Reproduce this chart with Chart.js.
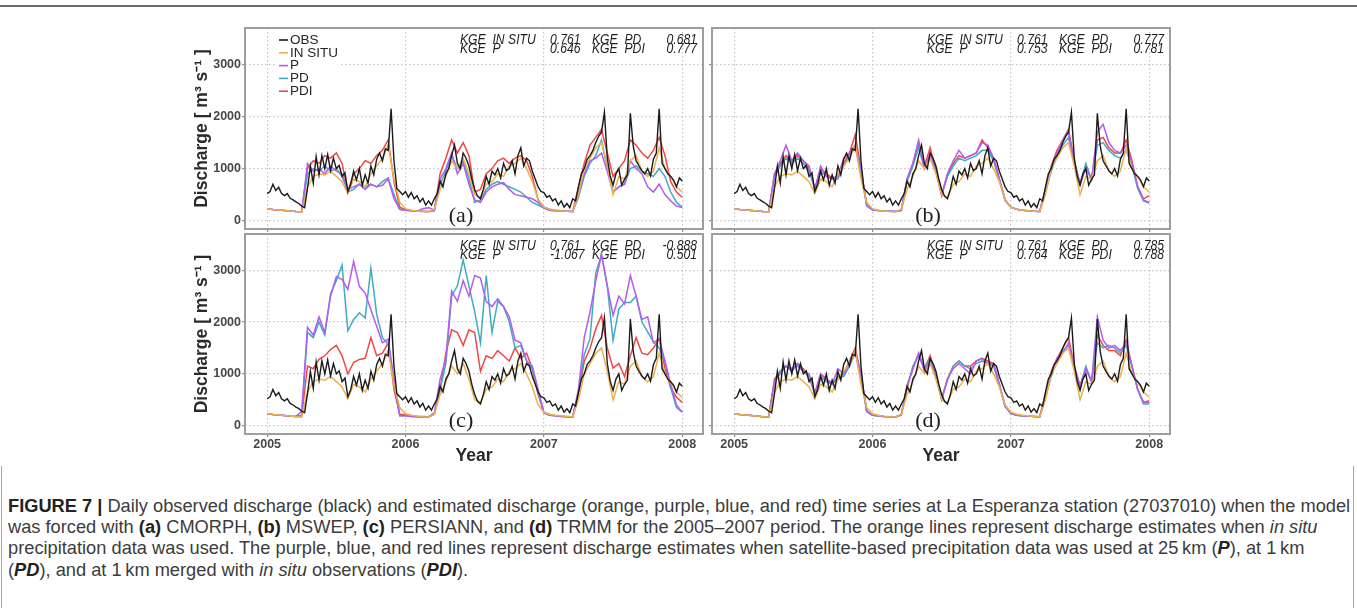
<!DOCTYPE html>
<html>
<head>
<meta charset="utf-8">
<title>Figure 7 – discharge at La Esperanza</title>
<script src="https://cdn.jsdelivr.net/npm/chart.js@4.4.1/dist/chart.umd.min.js"></script>
<style>
  html, body { margin: 0; padding: 0; background: #fff; }
  #fig { position: relative; width: 1357px; height: 608px; overflow: hidden; background: #fff; }
  #fig canvas { position: absolute; }
  .rule { position: absolute; left: 0; top: 5px; width: 1357px; height: 2px; background: #6a6a6a; }
  .box { position: absolute; left: 1px; top: 466px; width: 1351px; height: 150px;
         border-left: 1px solid #a8a8a8; border-right: 1px solid #a8a8a8; }
  #caption { position: absolute; left: 8px; top: 495px; color: #3c3c3c; font-size: 16px;
             font-family: "Liberation Sans Narrow", "Liberation Sans", Arial, sans-serif; line-height: 21.2px; }
  #caption div { white-space: nowrap; }
  #caption b { color: #222; }
</style>
</head>
<body>
<div id="fig">
  <div class="rule"></div>
  <div class="box"></div>
  <canvas id="panelA" width="520" height="220" style="left:190px;top:20px"></canvas>
  <canvas id="panelB" width="480" height="220" style="left:700px;top:20px"></canvas>
  <canvas id="panelC" width="520" height="245" style="left:190px;top:225px"></canvas>
  <canvas id="panelD" width="480" height="245" style="left:700px;top:225px"></canvas>
  <div id="caption">
    <div><span id="capLine1"><b>FIGURE 7 |</b> Daily observed discharge (black) and estimated discharge (orange, purple, blue, and red) time series at La Esperanza station (27037010) when the model</span></div>
    <div>was forced with <b>(a)</b> CMORPH, <b>(b)</b> MSWEP, <b>(c)</b> PERSIANN, and <b>(d)</b> TRMM for the 2005–2007 period. The orange lines represent discharge estimates when <i>in situ</i></div>
    <div>precipitation data was used. The purple, blue, and red lines represent discharge estimates when satellite-based precipitation data was used at 25&#8201;km (<b><i>P</i></b>), at 1&#8201;km</div>
    <div>(<b><i>PD</i></b>), and at 1&#8201;km merged with <i>in situ</i> observations (<b><i>PDI</i></b>).</div>
  </div>
</div>
<script>
// ---- data ----
const startYear = 2005;
const obsStep = 1 / 48;   // observed series, roughly weekly samples
const simStep = 1 / 24;   // simulated series, half-month samples
const yearTicks = [2005, 2006, 2007, 2008];
const yTicks = [0, 1000, 2000, 3000];
const seriesNames = ['OBS', 'IN SITU', 'P', 'PD', 'PDI'];
const kgeLabels = ['KGE  IN SITU', 'KGE  P', 'KGE  PD', 'KGE  PDI'];

const obs = [520,560,700,580,640,520,480,520,430,400,360,330,280,250,620,1050,720,1230,880,1250,1000,1270,960,1200,1000,1060,850,920,560,700,950,780,1000,680,880,720,1050,880,1180,1300,1150,1380,1350,2150,1150,620,560,500,
  560,450,540,420,480,360,430,300,380,300,420,520,760,650,900,1000,1250,1450,1100,1000,1300,1200,1050,800,600,470,420,600,850,700,950,880,1000,820,1100,960,1000,1150,900,1250,1400,1050,1200,1150,950,800,650,560,
  540,450,480,380,420,300,380,260,330,250,420,380,650,900,1000,1180,1250,1350,1500,1620,1700,2080,1200,860,680,900,1000,680,800,880,2060,1430,1150,1050,960,900,1000,860,1180,1300,2150,1100,1000,900,850,780,650,820,760];

const inSitu = [230,215,205,195,185,175,165,650,850,900,880,950,850,750,520,800,750,650,900,1050,1200,1450,800,350,
  230,200,185,175,170,220,600,850,1150,1000,1200,900,500,450,700,750,900,850,1050,1100,1200,1000,750,400,
  260,220,200,190,180,175,500,1000,1200,1400,1500,1050,500,850,800,1150,1250,950,850,950,1400,1000,850,650,550];

// (a) CMORPH
const cmorphP = [230,215,205,195,185,175,170,1100,950,1000,900,1050,950,900,600,650,700,600,700,650,680,800,420,220,
  200,190,180,230,250,200,800,1000,1300,900,1100,700,400,350,550,650,700,730,600,500,480,450,420,350,
  250,200,190,185,180,175,500,900,1150,1200,1300,950,550,650,700,1150,1000,900,650,550,700,500,380,280,250];
const cmorphPD = [230,215,205,195,185,175,170,900,1000,950,1050,950,1000,850,550,600,700,650,700,650,750,820,500,220,
  200,190,180,175,170,190,700,950,1250,1000,1150,800,350,400,600,700,750,700,650,600,550,450,350,300,
  240,200,190,185,180,175,450,850,1100,1250,1550,1000,550,650,700,1000,1050,950,900,850,1000,850,550,350,260];
const cmorphPDI = [230,215,205,195,185,175,170,1000,1150,1100,1250,1200,1300,1100,560,900,1000,1150,1100,1250,1350,1550,750,260,
  210,195,185,180,175,200,900,1200,1550,1300,1500,1250,550,600,900,1000,1150,1200,1100,1200,1250,1150,850,400,
  260,220,200,190,180,175,650,1100,1450,1600,1750,1300,850,1000,1150,1550,1450,1300,1200,1350,1600,1250,750,550,450];

// (b) MSWEP
const mswepP = [230,215,205,195,185,175,170,900,1150,1450,1150,1300,1150,1050,600,1050,850,800,850,1200,1300,1450,1000,300,
  210,195,185,180,175,200,800,1100,1550,1000,1300,950,500,900,1150,1350,1200,1250,1300,1500,1450,1200,800,400,
  260,220,200,190,180,175,600,1000,1300,1550,1700,1100,700,1000,800,1700,1850,1500,1350,1300,1450,1100,650,400,350];
const mswepPD = [230,215,205,195,185,175,170,850,1050,1200,1100,1200,1100,950,620,950,850,800,800,1050,1250,1400,950,280,
  210,195,185,180,175,200,750,1050,1400,1000,1250,950,520,850,1050,1200,1150,1200,1250,1350,1350,1150,780,380,
  260,220,200,190,180,175,550,950,1250,1450,1600,1100,720,1100,780,1450,1500,1350,1250,1200,1350,1050,620,380,340];
const mswepPDI = [230,215,205,195,185,175,170,900,1100,1250,1150,1250,1150,1000,600,1000,900,820,850,1100,1300,1650,1000,290,
  210,195,185,180,175,200,800,1100,1500,1050,1400,950,480,880,1100,1250,1200,1250,1300,1550,1400,1200,800,400,
  260,220,200,190,180,175,600,1050,1350,1550,1750,1150,700,1050,800,1550,1600,1400,1300,1300,1550,1150,650,420,480];

// (c) PERSIANN
const persiannP = [230,215,205,195,185,180,280,1900,1750,2100,1800,2500,2880,2820,2630,3170,2690,2560,2240,1920,1600,1670,900,190,
  190,180,175,170,170,250,900,1300,2600,2400,2800,2500,2900,2850,2400,2300,2450,2300,2100,1650,1600,1250,1150,700,
  250,200,190,180,175,170,700,1700,2190,2800,3300,2700,2130,2500,2350,2900,2500,2050,2100,1600,1680,1250,800,400,260];
const persiannPD = [230,215,205,195,185,180,200,1800,1700,2000,1750,2550,2800,3100,1830,2050,2180,2080,3040,2150,1700,1570,850,190,
  190,180,175,170,170,220,700,1200,2500,2700,3200,2700,2200,1600,2900,1800,2400,2300,2000,1500,1550,1250,1100,650,
  250,200,190,180,175,170,650,1370,1680,2950,3300,2700,1650,2250,2380,2380,2500,2000,1810,1620,1500,1240,730,350,260];
const persiannPDI = [230,215,205,195,185,180,200,1150,1100,1280,1350,1470,1550,1350,1000,1220,1280,1300,1700,1350,1400,1600,700,220,
  210,195,185,180,175,220,700,1400,1850,1800,1550,1850,1800,1050,1350,1300,1450,1350,1250,1500,1300,1400,1100,600,
  250,210,195,185,180,175,600,1240,1490,1870,2130,1500,1110,1200,950,1350,1700,1400,1370,1500,1680,1110,730,550,450];

// (d) TRMM
const trmmP = [230,215,205,195,185,175,170,850,1000,1150,1050,1200,1050,1000,600,1000,900,800,1100,1000,1200,1450,1000,280,
  200,190,180,175,170,220,750,1100,1400,1050,1250,950,500,900,1100,1200,1100,1000,1250,1300,1200,1200,800,380,
  240,200,190,185,180,175,550,1000,1300,1400,1600,1100,750,1100,850,2100,1650,1500,1550,1450,1600,1150,700,450,450];
const trmmPD = [230,215,205,195,185,175,170,850,1050,1150,1100,1150,1050,950,620,950,850,800,950,950,1150,1400,950,270,
  200,190,180,175,170,210,720,1150,1350,1100,1300,950,520,880,1150,1250,1150,1100,1200,1250,1200,1150,780,370,
  240,200,190,185,180,175,550,950,1250,1450,1550,1100,750,1150,850,1600,1500,1550,1500,1400,1550,1150,700,420,420];
const trmmPDI = [230,215,205,195,185,175,170,900,1050,1150,1100,1200,1100,950,620,1000,900,820,900,1000,1250,1500,980,280,
  200,190,180,175,170,210,780,1100,1400,1100,1350,950,520,900,1150,1250,1150,1150,1250,1300,1250,1200,800,380,
  240,200,190,185,180,175,600,1050,1300,1500,1700,1150,780,1100,850,1750,1550,1450,1450,1350,1650,1150,700,450,480];

const kgeCmorph = ['0.761', '0.646', '0.681', '0.777'];
const kgeMswep = ['0.761', '0.753', '0.777', '0.781'];
const kgePersiann = ['0.761', '-1.067', '-0.888', '0.501'];
const kgeTrmm = ['0.761', '0.764', '0.785', '0.788'];

// ---- styling ----
const seriesColors = ['#1b1b1b', '#ecb04c', '#b45cf2', '#3fabc3', '#f04646'];
const xMin = 2004.84, xMax = 2008.15;
const yMin = -160, yMax = 3700;
const fontFamily = '"Liberation Sans", Arial, sans-serif';
const tickColor = '#474747';
const titleColor = '#2a2a2a';

Chart.defaults.font.family = fontFamily;

const panels = [
  { canvas: 'panelA', letter: '(a)', kge: kgeCmorph, sims: [cmorphP, cmorphPD, cmorphPDI], left: true, bottom: false, legend: true, padTop: 8, padRight: 7, yWidth: 55, xHeight: 11 },
  { canvas: 'panelB', letter: '(b)', kge: kgeMswep, sims: [mswepP, mswepPD, mswepPDI], left: false, bottom: false, legend: false, padTop: 8, padRight: 10, yWidth: 12, xHeight: 11 },
  { canvas: 'panelC', letter: '(c)', kge: kgePersiann, sims: [persiannP, persiannPD, persiannPDI], left: true, bottom: true, legend: false, padTop: 9, padRight: 7, yWidth: 55, xHeight: 36 },
  { canvas: 'panelD', letter: '(d)', kge: kgeTrmm, sims: [trmmP, trmmPD, trmmPDI], left: false, bottom: true, legend: false, padTop: 9, padRight: 10, yWidth: 12, xHeight: 36 }
];

function toPoints(values, step) {
  return values.map((v, i) => ({ x: startYear + i * step, y: v }));
}

// condensed italic text, like the KGE block in the figure
function narrowText(ctx, text, x, y, align) {
  const sx = 0.87;
  ctx.save();
  ctx.translate(x, y);
  ctx.scale(sx, 1);
  ctx.textAlign = align;
  ctx.fillText(text, 0, 0);
  ctx.restore();
}

// frame, KGE block, panel letter and the in-panel legend
function makeDecor(p) {
  return {
    id: 'panelDecor',
    beforeDatasetsDraw(chart) {
      const { ctx, chartArea: a } = chart;
      ctx.save();
      ctx.fillStyle = '#1e1e1e';
      ctx.textBaseline = 'middle';
      ctx.font = 'italic 14px ' + fontFamily;
      const r1 = a.top + 12, r2 = a.top + 21.5;
      narrowText(ctx, kgeLabels[0], a.left + 215, r1, 'left');
      narrowText(ctx, kgeLabels[1], a.left + 215, r2, 'left');
      narrowText(ctx, p.kge[0], a.left + 305, r1, 'left');
      narrowText(ctx, p.kge[1], a.left + 305, r2, 'left');
      narrowText(ctx, kgeLabels[2], a.left + 347, r1, 'left');
      narrowText(ctx, kgeLabels[3], a.left + 347, r2, 'left');
      narrowText(ctx, p.kge[2], a.right - 6, r1, 'right');
      narrowText(ctx, p.kge[3], a.right - 6, r2, 'right');

      ctx.textAlign = 'center';
      ctx.font = '22px "Liberation Serif", "Times New Roman", serif';
      ctx.fillText(p.letter, a.left + 216, a.bottom - 13);

      if (p.legend) {
        ctx.fillStyle = '#fff';
        ctx.fillRect(a.left + 30, a.top + 4, 66, 66);
        ctx.font = '13.5px ' + fontFamily;
        ctx.textAlign = 'left';
        chart.data.datasets.forEach((ds, i) => {
          const y = a.top + 12 + i * 12.8;
          ctx.strokeStyle = ds.borderColor;
          ctx.lineWidth = 1.6;
          ctx.beginPath();
          ctx.moveTo(a.left + 34, y);
          ctx.lineTo(a.left + 43, y);
          ctx.stroke();
          ctx.fillStyle = '#262626';
          ctx.fillText(ds.label, a.left + 45, y);
        });
      }
      ctx.restore();
    },
    afterDraw(chart) {
      const { ctx, chartArea: a } = chart;
      ctx.save();
      ctx.strokeStyle = '#9e9e9e';
      ctx.lineWidth = 2;
      ctx.strokeRect(a.left, a.top, a.right - a.left, a.bottom - a.top);
      ctx.restore();
    }
  };
}

function buildChart(p) {
  const sources = [[obs, obsStep], [inSitu, simStep], [p.sims[0], simStep], [p.sims[1], simStep], [p.sims[2], simStep]];
  const datasets = sources.map(([vals, step], i) => ({
    label: seriesNames[i],
    data: toPoints(vals, step),
    borderColor: seriesColors[i],
    borderWidth: i === 0 ? 1.4 : 1.5
  }));

  const grid = { color: '#c6c6c6', lineWidth: 1.2, drawTicks: true, tickLength: 3, tickColor: '#8a8a8a', tickWidth: 1.2 };
  const tickFont = { size: 12.5, weight: 'bold', lineHeight: 1 };
  const titleFont = { size: 17.5, weight: 'bold' };

  return new Chart(document.getElementById(p.canvas), {
    type: 'line',
    data: { datasets },
    options: {
      responsive: false,
      animation: false,
      devicePixelRatio: 1,
      events: [],
      layout: { padding: { top: p.padTop, right: p.padRight, left: 0, bottom: 0 } },
      elements: { point: { radius: 0 }, line: { tension: 0, fill: false } },
      plugins: { legend: { display: false }, tooltip: { enabled: false } },
      scales: {
        x: {
          type: 'linear', min: xMin, max: xMax,
          afterBuildTicks: s => { s.ticks = yearTicks.map(value => ({ value })); },
          afterFit: s => { s.height = p.xHeight; },
          ticks: { display: p.bottom, color: tickColor, font: tickFont, padding: 1,
                   maxRotation: 0, autoSkip: false, callback: v => String(v) },
          grid: grid,
          border: { display: false, dash: [1.5, 2.5] },
          title: { display: p.bottom, text: 'Year', color: titleColor, font: titleFont, padding: { top: 0, bottom: 3 } }
        },
        y: {
          type: 'linear', min: yMin, max: yMax,
          afterBuildTicks: s => { s.ticks = yTicks.map(value => ({ value })); },
          afterFit: s => { s.width = p.yWidth; },
          ticks: { display: p.left, color: tickColor, font: tickFont, padding: 1,
                   callback: v => String(v) },
          grid: grid,
          border: { display: false, dash: [1.5, 2.5] },
          title: { display: p.left, text: 'Discharge [ m³ s⁻¹ ]', color: titleColor, font: titleFont, padding: { top: 2, bottom: 0 } }
        }
      }
    },
    plugins: [makeDecor(p)]
  });
}

panels.forEach(buildChart);

// stretch the caption font so the first line fills the box like the printed figure
const captionWidth = 1342;
const cap = document.getElementById('caption');
const w = document.getElementById('capLine1').getBoundingClientRect().width;
cap.style.fontSize = (16 * captionWidth / w).toFixed(2) + 'px';
</script>
</body>
</html>
